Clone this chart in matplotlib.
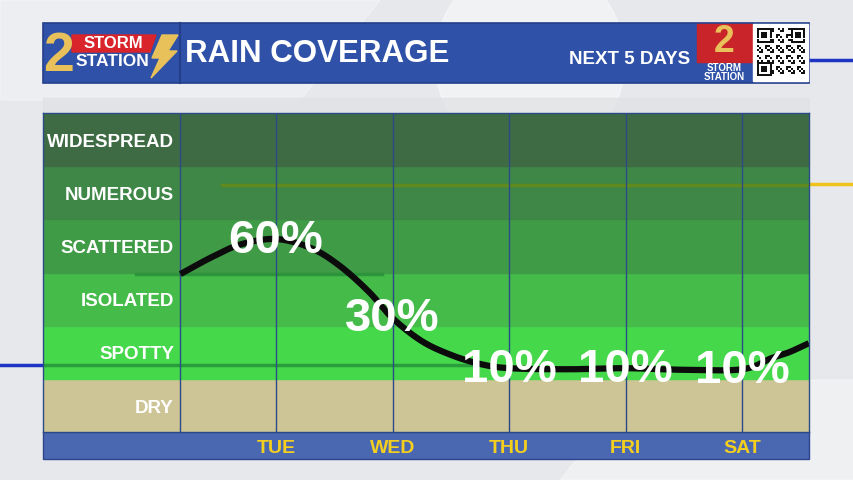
import numpy as np
import matplotlib.pyplot as plt
from matplotlib.patches import Rectangle, Polygon, Ellipse

# Coverage categories, bottom to top
categories = ['DRY', 'SPOTTY', 'ISOLATED', 'SCATTERED', 'NUMEROUS', 'WIDESPREAD']
band_colors = ['#cdc596', '#45d84b', '#45bb4a', '#409b46', '#3f8746', '#3e6b43']

# Forecast days and rain chances
days = ['TUE', 'WED', 'THU', 'FRI', 'SAT']
day_pos = [1, 2, 3, 4, 5]
chances = [60, 30, 10, 10, 10]
chance_levels = [3.6, 2.12, 1.16, 1.16, 1.15]

# Coverage curve (day index, category level)
curve_x = [0.18, 0.45, 0.7, 1.0, 1.3, 1.55, 1.8, 2.0, 2.25, 2.5, 2.75, 3.0,
           3.5, 4.0, 4.5, 5.0, 5.25, 5.4, 5.57]
curve_y = [2.97, 3.29, 3.53, 3.63, 3.46, 3.12, 2.63, 2.14, 1.71, 1.45, 1.28, 1.2,
           1.18, 1.2, 1.17, 1.18, 1.39, 1.5, 1.67]

FONT = ['Liberation Sans', 'DejaVu Sans']
plt.rcParams['font.family'] = FONT


def smooth(xs, ys, n=20):
    # Catmull-Rom spline through the read points, for drawing only
    xs = np.asarray(xs, float)
    ys = np.asarray(ys, float)
    px = np.concatenate([[2 * xs[0] - xs[1]], xs, [2 * xs[-1] - xs[-2]]])
    py = np.concatenate([[2 * ys[0] - ys[1]], ys, [2 * ys[-1] - ys[-2]]])
    ox, oy = [], []
    t = np.linspace(0, 1, n, endpoint=False)
    for i in range(1, len(px) - 2):
        for p, out in ((px, ox), (py, oy)):
            p0, p1, p2, p3 = p[i - 1], p[i], p[i + 1], p[i + 2]
            out.extend(0.5 * ((2 * p1) + (-p0 + p2) * t
                              + (2 * p0 - 5 * p1 + 4 * p2 - p3) * t ** 2
                              + (-p0 + 3 * p1 - 3 * p2 + p3) * t ** 3))
    ox.append(xs[-1])
    oy.append(ys[-1])
    return np.array(ox), np.array(oy)


fig = plt.figure(figsize=(8.54, 4.8), dpi=100)

# Background canvas in pixel coordinates
bg = fig.add_axes([0, 0, 1, 1])
bg.set_xlim(0, 854)
bg.set_ylim(480, 0)
bg.axis('off')
bg.add_patch(Rectangle((0, 0), 854, 480, color='#e6e8eb', zorder=0))
bg.add_patch(Ellipse((530, 60), 190, 200, color='white', alpha=0.45, zorder=0))
bg.add_patch(Polygon([[560, 480], [640, 380], [854, 380], [854, 480]], color='white', alpha=0.35, zorder=0))
bg.add_patch(Polygon([[0, 0], [380, 0], [300, 100], [0, 100]], color='white', alpha=0.3, zorder=0))
bg.add_patch(Rectangle((43, 98), 766, 14, color='#dfe1e4', alpha=0.7, zorder=0))

# Lines running behind the chart
bg.plot([0, 43], [365, 365], color='#1f33c4', lw=2.5, zorder=1)
bg.plot([809, 854], [184, 184], color='#f0c31c', lw=2.5, zorder=1)
bg.plot([809, 854], [60, 60], color='#1f33c4', lw=2.5, zorder=1)

# Header bar
bg.add_patch(Rectangle((43, 23), 766, 60, facecolor='#2f52a8', edgecolor='#233f8c', lw=1.2, zorder=2))
bg.plot([180, 180], [23, 83], color='#233f8c', lw=1.5, zorder=3)
bg.text(185, 54, 'RAIN COVERAGE', color='white', fontsize=22.5, fontweight='bold',
        va='center', ha='left', zorder=4)
bg.text(690, 59, 'NEXT 5 DAYS', color='white', fontsize=13.5, fontweight='bold',
        va='center', ha='right', zorder=4)

# Left logo
bg.add_patch(Polygon([[72, 35], [156, 35], [150, 52], [72, 52]], color='#d8242a', zorder=3))
bg.text(59, 57, '2', color='#e8c15a', fontsize=40, fontweight='bold', ha='center', va='center', zorder=5)
bg.text(113, 44, 'STORM', color='white', fontsize=12, fontweight='bold', ha='center', va='center', zorder=4)
bg.text(112, 62, 'STATION', color='white', fontsize=12.5, fontweight='bold', ha='center', va='center', zorder=4)
bg.add_patch(Polygon([[162, 35], [178, 35], [168, 51], [177, 51], [151, 78], [160, 58], [152, 58]],
                     color='#e8c15a', zorder=4))

# Right logo
bg.add_patch(Rectangle((697, 24), 55, 38, color='#c8242a', zorder=3))
bg.text(724, 42, '2', color='#e8c15a', fontsize=27, fontweight='bold', ha='center', va='center', zorder=4)
bg.text(724, 68, 'STORM', color='white', fontsize=7, fontweight='bold', ha='center', va='center', zorder=4)
bg.text(724, 77, 'STATION', color='white', fontsize=7, fontweight='bold', ha='center', va='center', zorder=4)
bg.add_patch(Rectangle((753, 24), 55, 57, color='white', zorder=3))
qx0, qy0, cell = 757, 28, 2.1
for i in range(23):
    for j in range(23):
        finder = (i < 7 and j < 7) or (i < 7 and j > 15) or (i > 15 and j < 7)
        if finder:
            a, b = i % 16 if i > 15 else i, j % 16 if j > 15 else j
            on = a in (0, 6) or b in (0, 6) or (2 <= a <= 4 and 2 <= b <= 4)
        else:
            on = (i * 7 + j * 13 + i * j) % 5 < 2
        if on:
            bg.add_patch(Rectangle((qx0 + j * cell, qy0 + i * cell), cell, cell,
                                   color='#111111', lw=0, zorder=4))

# Bottom day bar
bg.add_patch(Rectangle((43, 432), 766, 27, facecolor='#4a68b2', edgecolor='#2d438c', lw=1, zorder=2))

# Chart axes: x in day index, y in category level
ax = fig.add_axes([43 / 854, (480 - 432) / 480, 766 / 854, 319 / 480])
ax.set_xlim(-0.998, 5.571)
ax.set_ylim(0, 6)
ax.patch.set_alpha(0)

for i, (name, col) in enumerate(zip(categories, band_colors)):
    ax.axhspan(i, i + 1, color=col, zorder=1)
    ax.text(0.171, i + 0.45, name, transform=ax.get_yaxis_transform(), color='white',
            fontsize=13.5, fontweight='bold', ha='right', va='center', zorder=5)

# Faint lines showing through the panel
ax.plot([0.54, 5.571], [4.65, 4.65], color='#5e8a1e', lw=2.5, zorder=2)
ax.plot([-0.998, 2.75], [1.26, 1.26], color='#2a9d3c', lw=2.5, zorder=2)
ax.plot([-0.2, 1.91], [2.98, 2.98], color='#2c953c', lw=2.5, zorder=2)

for d in [0.177] + day_pos:
    ax.axvline(d, color='#2b4a8a', lw=1, zorder=3)

sx, sy = smooth(curve_x, curve_y)
ax.plot(sx, sy, color='#0c0c0c', lw=4.5, solid_capstyle='butt', zorder=4)

for d, c, lv in zip(day_pos, chances, chance_levels):
    ax.text(d, lv, f'{c}%', color='white', fontsize=34, fontweight='bold',
            ha='center', va='center', zorder=6)

ax.set_xticks(day_pos)
ax.set_xticklabels(days)
ax.set_yticks([])
ax.tick_params(axis='x', length=0, pad=6, colors='#f5cf1e', labelsize=14)
for lab in ax.get_xticklabels():
    lab.set_fontweight('bold')
for s in ax.spines.values():
    s.set_color('#2b4a8a')
    s.set_linewidth(1)
    s.set_zorder(5)

fig.savefig('out.png', dpi=100)
